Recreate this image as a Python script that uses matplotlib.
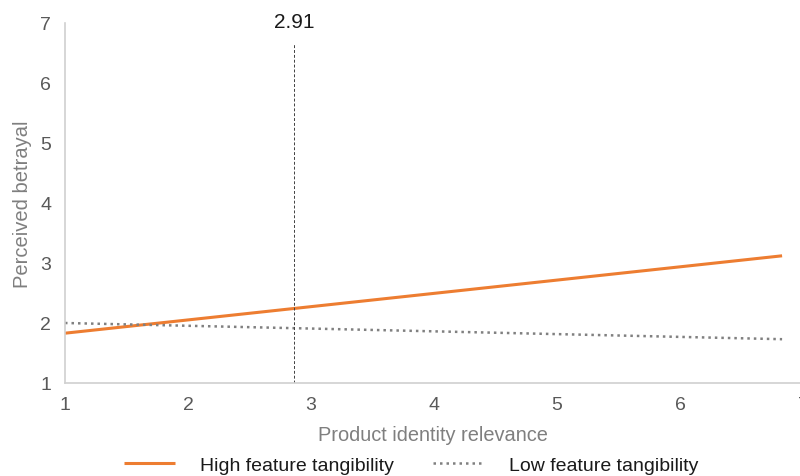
import matplotlib.pyplot as plt
import numpy as np

plt.rcParams['font.family'] = ['Liberation Sans', 'DejaVu Sans']

# data
x_ends = [1.0, 6.83]
high_tang = [1.83, 3.12]
low_tang = [2.00, 1.73]
jn_x = 2.86          # where the dashed line sits in the picture
jn_top = 6.65
jn_label = '2.91'
x_ticks = [1, 2, 3, 4, 5, 6, 7]
y_ticks = [1, 2, 3, 4, 5, 6, 7]

C_ORANGE = '#ED7D31'
C_DOT = '#808080'
C_AXIS = '#D0D0D0'
C_TICK = '#595959'
C_LABEL = '#7F7F7F'

fig = plt.figure(figsize=(8, 4.77), dpi=100, facecolor='white')
ax = fig.add_axes([65 / 800, 1 - 384 / 477, 738 / 800, 360 / 477])

ax.plot(x_ends, high_tang, color=C_ORANGE, linewidth=2.2, solid_capstyle='butt',
        label='High feature tangibility')
ax.plot(x_ends, low_tang, color=C_DOT, linewidth=1.8, linestyle=(0, (1, 1.6)),
        label='Low feature tangibility')

ax.plot([jn_x, jn_x], [1, jn_top], color='#404040', linewidth=0.7,
        linestyle=(0, (3, 2)))
ax.text(jn_x, 6.86, jn_label, ha='center', va='bottom', fontsize=15, color='#1a1a1a')

ax.set_xlim(1, 7)
ax.set_ylim(1, 7)
ax.set_xticks(x_ticks)
ax.set_yticks(y_ticks)
ax.tick_params(axis='both', length=0, labelsize=14, colors=C_TICK)
ax.tick_params(axis='y', pad=10)
ax.tick_params(axis='x', pad=9)

for s in ['top', 'right']:
    ax.spines[s].set_visible(False)
for s in ['left', 'bottom']:
    ax.spines[s].set_color(C_AXIS)
    ax.spines[s].set_linewidth(1.2)

ax.set_xlabel('Product identity relevance', fontsize=14.4, color=C_LABEL)
ax.set_ylabel('Perceived betrayal', fontsize=14.5, color=C_LABEL)
ax.xaxis.set_label_coords((433 - 65) / 738, -(426 - 384) / 360)
ax.yaxis.set_label_coords(-(65 - 32) / 738, 0.5)

fig.legend(loc='center', bbox_to_anchor=(411 / 800, 1 - 466 / 477), ncol=2,
           frameon=False, fontsize=14, handlelength=2.6, handletextpad=1.3,
           columnspacing=2.0, labelcolor='#1a1a1a')

fig.savefig('out.png', dpi=100, facecolor='white')
